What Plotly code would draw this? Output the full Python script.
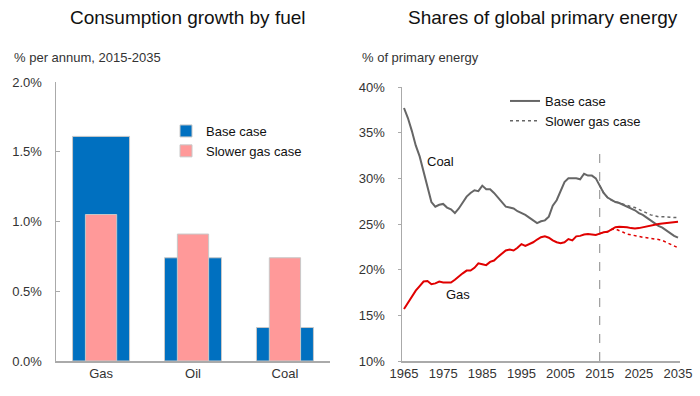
import plotly.graph_objects as go

# ---------------- Data ----------------
fuels = ["Gas", "Oil", "Coal"]
growth_base = [1.61, 0.74, 0.24]
growth_slower = [1.05, 0.91, 0.74]

years = list(range(1965, 2036))
coal_base = [37.7, 36.6, 35.2, 33.6, 32.4, 30.7, 28.8, 27.4, 26.9, 27.1,
             27.2, 26.8, 26.6, 26.2, 26.7, 27.4, 28.0, 28.4, 28.7, 28.6,
             29.2, 28.8, 28.8, 28.4, 27.9, 27.3, 26.9, 26.8, 26.7, 26.4,
             26.2, 26.0, 25.7, 25.4, 25.1, 25.3, 25.4, 25.8, 27.0, 27.6,
             28.6, 29.6, 30.0, 30.0, 30.0, 29.9, 30.5, 30.3, 30.3, 30.0,
             29.2, 28.4, 27.9, 27.6, 27.4, 27.3, 27.1, 26.9, 26.7, 26.5,
             26.2, 26.0, 25.7, 25.4, 25.1, 24.8, 24.6, 24.3, 24.0, 23.7,
             23.5]
gas_base = [15.7, 16.4, 17.1, 17.7, 18.2, 18.7, 18.75, 18.4, 18.5, 18.7,
            18.6, 18.6, 18.6, 18.9, 19.3, 19.6, 19.9, 19.9, 20.2, 20.7,
            20.6, 20.5, 20.85, 21.0, 21.4, 21.75, 22.1, 22.2, 22.1, 22.4,
            22.8, 22.6, 22.8, 23.0, 23.3, 23.55, 23.65, 23.5, 23.2, 23.0,
            22.9, 23.0, 23.35, 23.2, 23.65, 23.7, 23.85, 23.9, 23.85, 23.8,
            23.95, 24.1, 24.15, 24.4, 24.65, 24.7, 24.7, 24.65, 24.55, 24.5,
            24.55, 24.65, 24.75, 24.85, 24.9, 25.0, 25.05, 25.1, 25.15, 25.2,
            25.25]

years_slower = list(range(2015, 2036))
coal_slower = [29.2, 28.4, 27.9, 27.6, 27.45, 27.3, 27.15, 27.0, 26.9, 26.8,
               26.6, 26.4, 26.2, 26.0, 25.9, 25.8, 25.8, 25.8, 25.75, 25.7,
               25.7]
gas_slower = [23.95, 24.1, 24.15, 24.4, 24.45, 24.3, 24.1, 23.9, 23.8, 23.7,
              23.6, 23.55, 23.5, 23.45, 23.4, 23.3, 23.2, 23.0, 22.8, 22.6,
              22.4]

forecast_start = 2015
forecast_line_top = 33.4

left_ticks = [0.0, 0.5, 1.0, 1.5, 2.0]
left_ticktext = [f"{v:.1f}%" for v in left_ticks]
right_ticks = [10, 15, 20, 25, 30, 35, 40]
right_ticktext = [f"{v}%" for v in right_ticks]
year_ticks = list(range(1965, 2036, 10))

# ---------------- Style ----------------
FONT = "Liberation Sans, Arial, sans-serif"
BLUE = "#0070C0"
PINK = "#FF9999"
GREY_LINE = "#666666"
RED = "#E00000"
AXIS = "#AAAAAA"
TXT = "#333333"

fig = go.Figure()

fig.add_trace(go.Bar(x=fuels, y=growth_base, name="Base case", width=0.62,
                     marker=dict(color=BLUE, line=dict(color="#C8C8C8", width=1)),
                     xaxis="x", yaxis="y", legend="legend"))
fig.add_trace(go.Bar(x=fuels, y=growth_slower, name="Slower gas case", width=0.34,
                     marker=dict(color=PINK, line=dict(color="#C8C8C8", width=1)),
                     xaxis="x", yaxis="y", legend="legend"))

fig.add_trace(go.Scatter(x=years_slower, y=coal_slower, mode="lines", name="Slower gas case",
                         line=dict(color=GREY_LINE, width=1.5, dash="dot"),
                         xaxis="x2", yaxis="y2", legend="legend2", legendrank=2))
fig.add_trace(go.Scatter(x=years_slower, y=gas_slower, mode="lines", showlegend=False,
                         line=dict(color=RED, width=1.5, dash="dot"),
                         xaxis="x2", yaxis="y2"))
fig.add_trace(go.Scatter(x=years, y=coal_base, mode="lines", name="Base case",
                         line=dict(color=GREY_LINE, width=2),
                         xaxis="x2", yaxis="y2", legend="legend2", legendrank=1))
fig.add_trace(go.Scatter(x=years, y=gas_base, mode="lines", showlegend=False,
                         line=dict(color=RED, width=2),
                         xaxis="x2", yaxis="y2"))

fig.add_shape(type="line", xref="x2", yref="y2", x0=forecast_start, x1=forecast_start,
              y0=right_ticks[0], y1=forecast_line_top,
              line=dict(color="#888888", width=1, dash="dash"), layer="below")

H = 396.0
W = 700.0

fig.update_layout(
    width=700, height=396,
    margin=dict(l=0, r=0, t=0, b=0, autoexpand=False),
    paper_bgcolor="white", plot_bgcolor="white",
    font=dict(family=FONT, size=13, color=TXT),
    barmode="overlay",
    showlegend=True,
    hovermode=False,
    xaxis=dict(domain=[56 / W, 330 / W], range=[-0.49, 2.49], showline=True,
               linecolor=AXIS, linewidth=1.5, ticks="", showgrid=False,
               tickfont=dict(size=13, color=TXT), anchor="y", automargin=False),
    yaxis=dict(domain=[1 - 361 / H, 1 - 82 / H], range=[0, 2], tickvals=left_ticks,
               ticktext=left_ticktext, showline=True, linecolor=AXIS,
               linewidth=1.5, ticks="inside", ticklen=4, tickcolor=AXIS,
               showgrid=False, zeroline=False, anchor="x", ticklabelstandoff=10,
               tickfont=dict(size=13, color=TXT), automargin=False),
    xaxis2=dict(domain=[402 / W, 680 / W], range=[1964.49, 2035.51], tickvals=year_ticks,
                showline=True, linecolor=AXIS, linewidth=1.5, ticks="", showgrid=False,
                zeroline=False, anchor="y2", tickfont=dict(size=13, color=TXT),
                automargin=False),
    yaxis2=dict(domain=[1 - 361 / H, 1 - 87 / H], range=[10, 40], tickvals=right_ticks,
                ticktext=right_ticktext, showline=True, linecolor=AXIS, linewidth=1.5,
                ticks="outside", ticklen=3, tickcolor=AXIS, showgrid=False,
                zeroline=False, anchor="x2", ticklabelstandoff=10,
                tickfont=dict(size=13, color=TXT), automargin=False),
    legend=dict(x=(206 - 40) / W, y=1 - 116 / H, xanchor="left", yanchor="top",
                bgcolor="rgba(0,0,0,0)", font=dict(size=13, color="#111111"),
                itemwidth=30, tracegroupgap=0),
    legend2=dict(x=(545 - 40) / W, y=1 - 86 / H, xanchor="left", yanchor="top",
                 bgcolor="rgba(0,0,0,0)", font=dict(size=13, color="#111111"),
                 itemwidth=30, tracegroupgap=0),
    annotations=[
        dict(text="Consumption growth by fuel", xref="paper", yref="paper",
             x=187.5 / W, y=1 - 17 / H, xanchor="center", yanchor="middle",
             showarrow=False, font=dict(size=19, color="#111111")),
        dict(text="Shares of global primary energy", xref="paper", yref="paper",
             x=543 / W, y=1 - 17 / H, xanchor="center", yanchor="middle",
             showarrow=False, font=dict(size=19, color="#111111")),
        dict(text="% per annum, 2015-2035", xref="paper", yref="paper",
             x=12 / W, y=1 - 58 / H, xanchor="left", yanchor="middle",
             showarrow=False, font=dict(size=13, color=TXT)),
        dict(text="% of primary energy", xref="paper", yref="paper",
             x=360 / W, y=1 - 58 / H, xanchor="left", yanchor="middle",
             showarrow=False, font=dict(size=13, color=TXT)),
        dict(text="Coal", xref="x2", yref="y2", x=1974.2, y=31.8,
             showarrow=False, font=dict(size=13, color="#111111")),
        dict(text="Gas", xref="x2", yref="y2", x=1978.8, y=17.3,
             showarrow=False, font=dict(size=13, color="#111111")),
    ],
)

fig.write_html(
    "out.html",
    config={"displayModeBar": False, "staticPlot": True},
    post_script="document.body.style.margin='0';document.body.style.overflow='hidden';",
)
